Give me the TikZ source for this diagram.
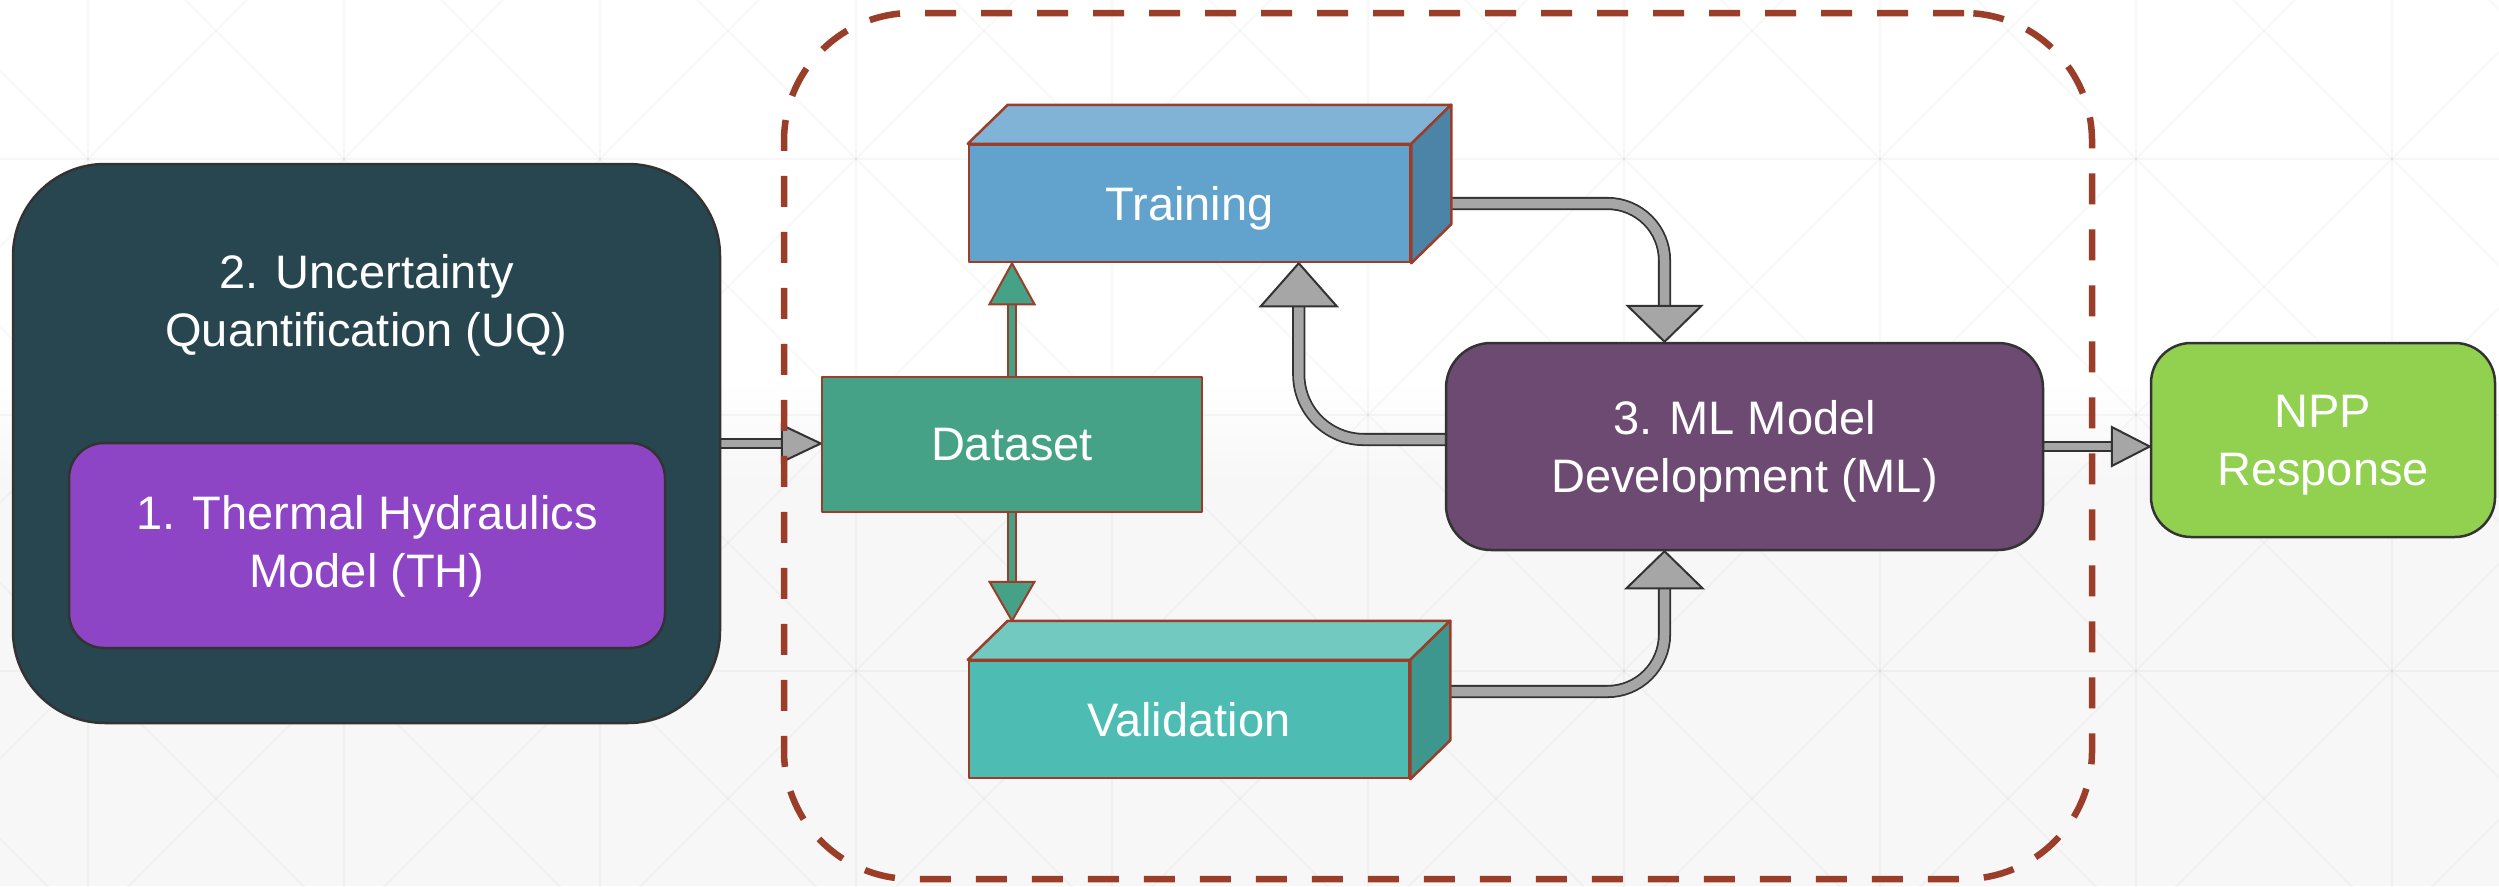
\documentclass[tikz,border=0pt]{standalone}
\usepackage{fontspec}
\setmainfont{Liberation Sans}
\usetikzlibrary{calc}
\definecolor{uqc}{HTML}{27464F}
\definecolor{thc}{HTML}{8D44C5}
\definecolor{dsc}{HTML}{45A287}
\definecolor{trf}{HTML}{61A3CC}
\definecolor{trt}{HTML}{80B3D6}
\definecolor{trs}{HTML}{4C84A8}
\definecolor{vaf}{HTML}{4DBDB3}
\definecolor{vat}{HTML}{71C9BF}
\definecolor{vas}{HTML}{3E978E}
\definecolor{mlc}{HTML}{6C4A72}
\definecolor{nppc}{HTML}{92D050}
\definecolor{brn}{HTML}{9A3E2A}
\definecolor{dk}{HTML}{333333}
\definecolor{arg}{HTML}{A6A6A6}
\definecolor{bgb}{HTML}{F7F7F7}
\pgfdeclarelayer{back}
\pgfdeclarelayer{arrowsl}
\pgfsetlayers{back,arrowsl,main}
\begin{document}
\begin{tikzpicture}[x=1pt,y=-1pt,
  txt/.style={text=white, font=\fontsize{47}{58}\selectfont, align=center, text depth=0pt, yshift=-2pt},
  pbox/.style={draw=dk, line width=2.5pt, inner sep=0pt},
  bbox/.style={draw=brn, line width=2.5pt, inner sep=0pt, line join=round},
  gridline/.style={black, opacity=0.03, line width=1.5pt},
  gshaft/.style={draw=dk, line width=1.8pt, double=arg, double distance=7pt},
  gshaftw/.style={draw=dk, line width=1.8pt, double=arg, double distance=9.5pt},
  ghead/.style={fill=arg, draw=dk, line width=2pt, line join=miter},
  grshaft/.style={draw=brn, line width=1.8pt, double=dsc, double distance=6.5pt},
  grhead/.style={fill=dsc, draw=brn, line width=2pt, line join=miter},
  frame/.style={draw=brn, line width=6.5pt, dash pattern=on 31pt off 25pt, rounded corners=128pt, inner sep=0pt}
]
\useasboundingbox (0,0) rectangle (2499,886);
\begin{pgfonlayer}{back}
  \fill[white] (0,0) rectangle (2499,380);
  \shade[top color=white, bottom color=bgb] (0,379) rectangle (2499,481);
  \fill[bgb] (0,480) rectangle (2499,886);
  \begin{scope}
    \clip (0,0) rectangle (2499,886);
    \foreach \x in {-168,88,...,2648} \draw[gridline] (\x,-5) -- (\x,891);
    \foreach \y in {-97,159,415,671} \draw[gridline] (-5,\y) -- (2504,\y);
    \foreach \k in {-5,...,11} \draw[gridline] ({256*\k-171},-100) -- ({256*\k+929},1000);
    \foreach \k in {-2,...,14} \draw[gridline] ({256*\k+347},-100) -- ({256*\k-753},1000);
  \end{scope}
\end{pgfonlayer}

% nodes
\node[pbox, fill=uqc, rounded corners=92pt, minimum width=707pt, minimum height=559pt] (uq) at (366.5,443.5) {};
\node[txt] (uqlbl) at (366.5,298) {2. Uncertainty\\Quantification (UQ)};
\node[pbox, fill=thc, rounded corners=35pt, minimum width=596pt, minimum height=205pt] (th) at (367,545.5) {};
\node[txt] (thlbl) at (367,539.5) {1. Thermal Hydraulics\\Model (TH)};

\node[bbox, fill=dsc, minimum width=380pt, minimum height=135pt, txt] (ds) at (1012,442.5) {Dataset};

\node[bbox, fill=trf, minimum width=441pt, minimum height=117pt, txt] (tr) at (1189.5,201.5) {Training};
\filldraw[bbox, fill=trt] (tr.north west) -- ++(40,-39) -- ($(tr.north east)+(40,-39)$) -- (tr.north east) -- cycle;
\filldraw[bbox, fill=trs] (tr.north east) -- ++(40,-39) -- ($(tr.south east)+(40,-39)$) -- (tr.south east) -- cycle;

\node[bbox, fill=vaf, minimum width=440pt, minimum height=117pt, txt] (va) at (1189,717.5) {Validation};
\filldraw[bbox, fill=vat] (va.north west) -- ++(40,-39) -- ($(va.north east)+(40,-39)$) -- (va.north east) -- cycle;
\filldraw[bbox, fill=vas] (va.north east) -- ++(40,-39) -- ($(va.south east)+(40,-39)$) -- (va.south east) -- cycle;

\node[pbox, fill=mlc, rounded corners=45pt, minimum width=597pt, minimum height=207pt, txt] (ml) at (1744.5,444.5) {3. ML Model\\Development (ML)};
\node[pbox, fill=nppc, rounded corners=40pt, minimum width=344pt, minimum height=194pt, txt] (npp) at (2323,438) {NPP\\Response};

% connectors
\begin{pgfonlayer}{arrowsl}
  % UQ -> Dataset
  \coordinate (a1tip) at (uq.east -| ds.west);
  \draw[gshaft] (uq.east) -- ($(a1tip)+(-39,0)$);
  \filldraw[ghead] (a1tip) -- ++(-39,-18.5) -- ++(0,37) -- cycle;
  % Dataset -> Training
  \coordinate (a2tip) at (ds.north |- tr.south);
  \draw[grshaft] (ds.north) -- ($(a2tip)+(0,41)$);
  \filldraw[grhead] (a2tip) -- ++(-22.5,41) -- ++(45,0) -- cycle;
  % Dataset -> Validation
  \coordinate (vtop) at ($(va.north west)+(40,-39)$);
  \coordinate (a3tip) at (ds.south |- vtop);
  \draw[grshaft] (ds.south) -- ($(a3tip)+(0,-39)$);
  \filldraw[grhead] (a3tip) -- ++(-22.5,-39) -- ++(45,0) -- cycle;
  % Training -> ML
  \coordinate (a4s) at ($(tr.east)+(40,0)$);
  \coordinate (a4tip) at ($(ml.north)+(-80,0)$);
  \draw[gshaftw, rounded corners=57pt] (a4s) -- (a4s -| a4tip) -- ($(a4tip)+(0,-36)$);
  \filldraw[ghead] (a4tip) -- ++(-37,-36) -- ++(74,0) -- cycle;
  % ML -> Training
  \coordinate (a5s) at ($(ml.west)+(0,-7)$);
  \coordinate (a5tip) at ($(tr.south west)+(331,0)$);
  \draw[gshaftw, rounded corners=65pt] (a5s) -- (a5s -| a5tip) -- ($(a5tip)+(0,43)$);
  \filldraw[ghead] (a5tip) -- ++(-38,43) -- ++(76,0) -- cycle;
  % Validation -> ML
  \coordinate (a6s) at ($(va.east)+(40,-28)$);
  \coordinate (a6tip) at ($(ml.south)+(-80,0)$);
  \draw[gshaftw, rounded corners=57pt] (a6s) -- (a6s -| a6tip) -- ($(a6tip)+(0,37)$);
  \filldraw[ghead] (a6tip) -- ++(-38,37) -- ++(76,0) -- cycle;
  % ML -> NPP
  \coordinate (a7tip) at (ml.east -| npp.west);
  \draw[gshaft] (ml.east) -- ($(a7tip)+(-38,0)$);
  \filldraw[ghead] (a7tip) -- ++(-38,-19.5) -- ++(0,39) -- cycle;
\end{pgfonlayer}

% dashed group frame
\node[frame, minimum width=1308pt, minimum height=866pt] (grp) at (1438,446) {};
\end{tikzpicture}
\end{document}
